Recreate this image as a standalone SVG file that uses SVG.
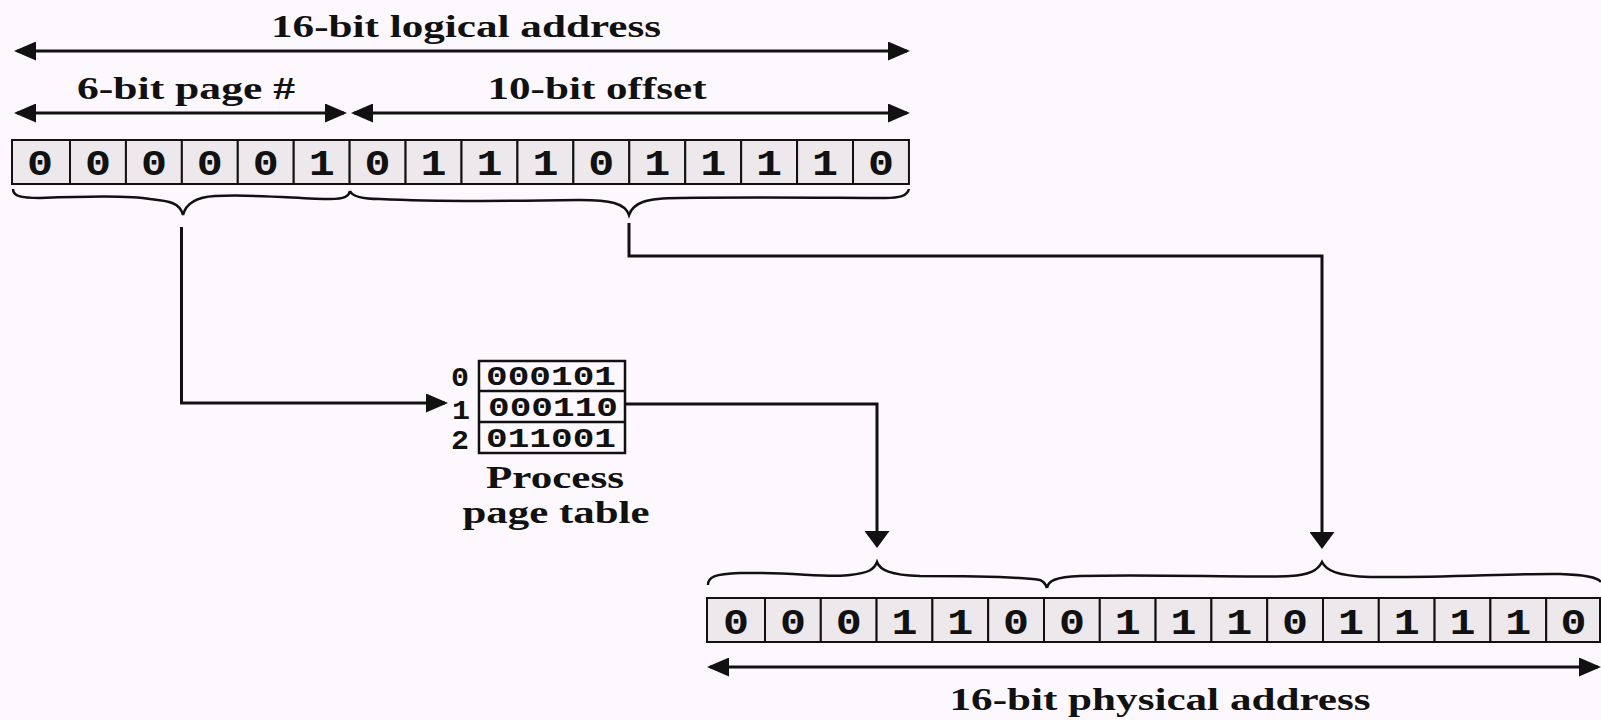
<svg xmlns="http://www.w3.org/2000/svg" width="1601" height="720" viewBox="0 0 1601 720">
<style>
.bg{fill:#fdf8fd}
.cell{fill:#ece8ec;stroke:#111;stroke-width:2}
.bit{font-family:"Liberation Mono","DejaVu Sans Mono",monospace;font-weight:bold;font-size:36px;fill:#111;text-anchor:middle}
.tb{font-family:"Liberation Mono","DejaVu Sans Mono",monospace;font-weight:bold;font-size:28px;fill:#111;text-anchor:middle}
.lbl{font-family:"Liberation Serif","Times New Roman",serif;font-weight:bold;font-size:32px;fill:#111;text-anchor:middle}
.dim{stroke:#111;stroke-width:3;fill:none;marker-start:url(#ah);marker-end:url(#ah)}
.brace{stroke:#111;stroke-width:2.5;fill:none}
.con{stroke:#111;stroke-width:3;fill:none}
.tbl{fill:none;stroke:#111;stroke-width:2.5}
</style>
<defs>
<marker id="ah" markerUnits="userSpaceOnUse" markerWidth="22" markerHeight="19" refX="19" refY="9.5" orient="auto-start-reverse"><path d="M0,0 L22,9.5 L0,19 z" fill="#111"/></marker>
<marker id="ad" markerUnits="userSpaceOnUse" markerWidth="17" markerHeight="25" refX="14" refY="12.5" orient="auto"><path d="M0,0 L17,12.5 L0,25 z" fill="#111"/></marker>
</defs>
<rect class="bg" x="0" y="0" width="1601" height="720"/>

<g id="logical-address-label">
<text class="lbl" x="466" y="37" textLength="390" lengthAdjust="spacingAndGlyphs">16-bit logical address</text>
<path class="dim" d="M17,51 H907"/>
</g>
<g id="page-number-label">
<text class="lbl" x="186" y="99" textLength="218" lengthAdjust="spacingAndGlyphs">6-bit page #</text>
<path class="dim" d="M17,113 H344"/>
</g>
<g id="offset-label">
<text class="lbl" x="597" y="99" textLength="219" lengthAdjust="spacingAndGlyphs">10-bit offset</text>
<path class="dim" d="M354,113 H907"/>
</g>

<g id="logical-address">
<rect class="cell" x="12" y="140" width="58" height="44"/>
<rect class="cell" x="70" y="140" width="55.93" height="44"/>
<rect class="cell" x="125.93" y="140" width="55.93" height="44"/>
<rect class="cell" x="181.86" y="140" width="55.93" height="44"/>
<rect class="cell" x="237.79" y="140" width="55.93" height="44"/>
<rect class="cell" x="293.72" y="140" width="55.93" height="44"/>
<rect class="cell" x="349.65" y="140" width="55.93" height="44"/>
<rect class="cell" x="405.58" y="140" width="55.93" height="44"/>
<rect class="cell" x="461.51" y="140" width="55.93" height="44"/>
<rect class="cell" x="517.44" y="140" width="55.93" height="44"/>
<rect class="cell" x="573.37" y="140" width="55.93" height="44"/>
<rect class="cell" x="629.3" y="140" width="55.93" height="44"/>
<rect class="cell" x="685.23" y="140" width="55.93" height="44"/>
<rect class="cell" x="741.16" y="140" width="55.93" height="44"/>
<rect class="cell" x="797.09" y="140" width="55.93" height="44"/>
<rect class="cell" x="853.02" y="140" width="55.93" height="44"/>
<text class="bit" x="40" y="175" textLength="26" lengthAdjust="spacingAndGlyphs">0</text>
<text class="bit" x="98" y="175" textLength="26" lengthAdjust="spacingAndGlyphs">0</text>
<text class="bit" x="153.9" y="175" textLength="26" lengthAdjust="spacingAndGlyphs">0</text>
<text class="bit" x="209.8" y="175" textLength="26" lengthAdjust="spacingAndGlyphs">0</text>
<text class="bit" x="265.8" y="175" textLength="26" lengthAdjust="spacingAndGlyphs">0</text>
<text class="bit" x="321.7" y="175" textLength="26" lengthAdjust="spacingAndGlyphs">1</text>
<text class="bit" x="377.6" y="175" textLength="26" lengthAdjust="spacingAndGlyphs">0</text>
<text class="bit" x="433.6" y="175" textLength="26" lengthAdjust="spacingAndGlyphs">1</text>
<text class="bit" x="489.5" y="175" textLength="26" lengthAdjust="spacingAndGlyphs">1</text>
<text class="bit" x="545.4" y="175" textLength="26" lengthAdjust="spacingAndGlyphs">1</text>
<text class="bit" x="601.3" y="175" textLength="26" lengthAdjust="spacingAndGlyphs">0</text>
<text class="bit" x="657.3" y="175" textLength="26" lengthAdjust="spacingAndGlyphs">1</text>
<text class="bit" x="713.2" y="175" textLength="26" lengthAdjust="spacingAndGlyphs">1</text>
<text class="bit" x="769.1" y="175" textLength="26" lengthAdjust="spacingAndGlyphs">1</text>
<text class="bit" x="825" y="175" textLength="26" lengthAdjust="spacingAndGlyphs">1</text>
<text class="bit" x="881" y="175" textLength="26" lengthAdjust="spacingAndGlyphs">0</text>
</g>

<g id="logical-braces">
<path class="brace" d="M13,189 C13,196 20,198 40,198 C90,196 130,195 150,199 C170,201 180,203 183,215 C186,203 196,197 215,196 C260,194 300,199 330,199 C345,199 349,196 350,191"/>
<path class="brace" d="M350,191 C352,196 360,199 380,199 C440,202 520,201 580,200 C610,200 625,203 629,215 C633,203 645,198 680,198 C760,197 840,198 885,198 C900,198 907,196 909,189"/>
</g>

<g id="page-table">
<rect class="tbl" x="479" y="361" width="146" height="92"/>
<path class="tbl" d="M479,391 H625 M479,422 H625"/>
<text class="tb" x="460" y="386" textLength="18" lengthAdjust="spacingAndGlyphs">0</text>
<text class="tb" x="461" y="419" textLength="18" lengthAdjust="spacingAndGlyphs">1</text>
<text class="tb" x="460" y="449" textLength="18" lengthAdjust="spacingAndGlyphs">2</text>
<text class="tb" x="551" y="385" textLength="130" lengthAdjust="spacingAndGlyphs">000101</text>
<text class="tb" x="553" y="416" textLength="130" lengthAdjust="spacingAndGlyphs">000110</text>
<text class="tb" x="551" y="447" textLength="130" lengthAdjust="spacingAndGlyphs">011001</text>
<text class="lbl" x="555" y="488" textLength="138" lengthAdjust="spacingAndGlyphs">Process</text>
<text class="lbl" x="556" y="523" textLength="187" lengthAdjust="spacingAndGlyphs">page table</text>
</g>

<g id="connectors">
<path class="con" d="M181.5,227 V403 H445" marker-end="url(#ah)"/>
<path class="con" d="M629,223 V256 H1322 V546" marker-end="url(#ad)"/>
<path class="con" d="M625,404 H877 V545" marker-end="url(#ad)"/>
</g>

<g id="physical-braces">
<path class="brace" d="M708,585 C708,577 714,574 740,573 C790,572 830,578 850,575 C868,573 874,570 877,562 C880,570 890,575 920,576 C980,576 1020,577 1040,580 C1045,582 1046,585 1047,588"/>
<path class="brace" d="M1047,588 C1048,581 1055,577 1080,576 C1160,574 1250,578 1290,576 C1310,575 1318,570 1322,562 C1326,570 1336,576 1370,577 C1440,578 1520,573 1560,574 C1590,575 1598,578 1601,582"/>
</g>

<g id="physical-address">
<rect class="cell" x="707" y="598" width="58" height="44"/>
<rect class="cell" x="765" y="598" width="55.8" height="44"/>
<rect class="cell" x="820.8" y="598" width="55.8" height="44"/>
<rect class="cell" x="876.6" y="598" width="55.8" height="44"/>
<rect class="cell" x="932.4" y="598" width="55.8" height="44"/>
<rect class="cell" x="988.2" y="598" width="55.8" height="44"/>
<rect class="cell" x="1044" y="598" width="55.8" height="44"/>
<rect class="cell" x="1099.8" y="598" width="55.8" height="44"/>
<rect class="cell" x="1155.6" y="598" width="55.8" height="44"/>
<rect class="cell" x="1211.4" y="598" width="55.8" height="44"/>
<rect class="cell" x="1267.2" y="598" width="55.8" height="44"/>
<rect class="cell" x="1323" y="598" width="55.8" height="44"/>
<rect class="cell" x="1378.8" y="598" width="55.8" height="44"/>
<rect class="cell" x="1434.6" y="598" width="55.8" height="44"/>
<rect class="cell" x="1490.4" y="598" width="55.8" height="44"/>
<rect class="cell" x="1546.2" y="598" width="53.8" height="44"/>
<text class="bit" x="736" y="634" textLength="26" lengthAdjust="spacingAndGlyphs">0</text>
<text class="bit" x="792.9" y="634" textLength="26" lengthAdjust="spacingAndGlyphs">0</text>
<text class="bit" x="848.7" y="634" textLength="26" lengthAdjust="spacingAndGlyphs">0</text>
<text class="bit" x="904.5" y="634" textLength="26" lengthAdjust="spacingAndGlyphs">1</text>
<text class="bit" x="960.3" y="634" textLength="26" lengthAdjust="spacingAndGlyphs">1</text>
<text class="bit" x="1016.1" y="634" textLength="26" lengthAdjust="spacingAndGlyphs">0</text>
<text class="bit" x="1071.9" y="634" textLength="26" lengthAdjust="spacingAndGlyphs">0</text>
<text class="bit" x="1127.7" y="634" textLength="26" lengthAdjust="spacingAndGlyphs">1</text>
<text class="bit" x="1183.5" y="634" textLength="26" lengthAdjust="spacingAndGlyphs">1</text>
<text class="bit" x="1239.3" y="634" textLength="26" lengthAdjust="spacingAndGlyphs">1</text>
<text class="bit" x="1295.1" y="634" textLength="26" lengthAdjust="spacingAndGlyphs">0</text>
<text class="bit" x="1350.9" y="634" textLength="26" lengthAdjust="spacingAndGlyphs">1</text>
<text class="bit" x="1406.7" y="634" textLength="26" lengthAdjust="spacingAndGlyphs">1</text>
<text class="bit" x="1462.5" y="634" textLength="26" lengthAdjust="spacingAndGlyphs">1</text>
<text class="bit" x="1518.3" y="634" textLength="26" lengthAdjust="spacingAndGlyphs">1</text>
<text class="bit" x="1573.5" y="634" textLength="26" lengthAdjust="spacingAndGlyphs">0</text>
</g>

<g id="physical-address-label">
<path class="dim" d="M710,667 H1598"/>
<text class="lbl" x="1160" y="710" textLength="421" lengthAdjust="spacingAndGlyphs">16-bit physical address</text>
</g>
</svg>
